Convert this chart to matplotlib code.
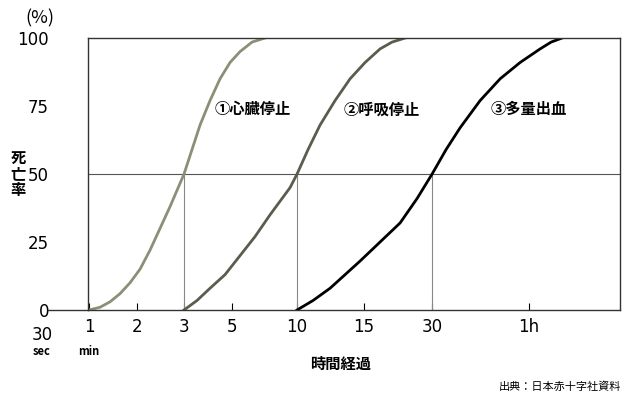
import matplotlib.pyplot as plt

plt.rcParams['font.family'] = ['Noto Sans CJK JP', 'DejaVu Sans']

# x positions on the (non-uniform) time axis
tick_pos = [89, 137, 184, 232, 297, 364, 432, 529]
tick_labels = ["1", "2", "3", "5", "10", "15", "30", "1h"]
y_ticks = [0, 25, 50, 75, 100]

cardiac_x = [89, 100, 110, 120, 130, 140, 150, 160, 170, 177, 184, 192, 200, 210, 220, 230, 240, 252, 265]
cardiac_y = [0, 1, 3, 6, 10, 15, 22, 30, 38, 44, 50, 59, 68, 77, 85, 91, 95, 98.5, 100]
resp_x = [184, 197, 210, 225, 240, 255, 270, 282, 290, 297, 308, 320, 335, 350, 365, 380, 392, 405]
resp_y = [0, 3.5, 8, 13, 20, 27, 35, 41, 45, 50, 59, 68, 77, 85, 91, 96, 98.5, 100]
bleed_x = [297, 313, 330, 345, 360, 380, 400, 417, 432, 446, 460, 480, 500, 520, 540, 551, 562]
bleed_y = [0, 3.5, 8, 13, 18, 25, 32, 41, 50, 59, 67, 77, 85, 91, 96, 98.5, 100]

fig = plt.figure(figsize=(6.4, 4.0), dpi=100)
ax = fig.add_axes([0.1375, 0.225, 0.8315, 0.68])
ax.set_xlim(88, 620)
ax.set_ylim(0, 100)

ax.axhline(50, color="#555555", lw=0.8)
for xv in [184, 297, 432]:
    ax.plot([xv, xv], [0, 50], color="#888888", lw=0.8)

ax.plot(cardiac_x, cardiac_y, color="#8a8f78", lw=2)
ax.plot(resp_x, resp_y, color="#5a5d4e", lw=2)
ax.plot(bleed_x, bleed_y, color="black", lw=2)

ax.text(215, 72, "①心臓停止", fontsize=11, weight="bold")
ax.text(343, 72, "②呼吸停止", fontsize=11, weight="bold")
ax.text(490, 72, "③多量出血", fontsize=11, weight="bold")

ax.set_xticks(tick_pos)
ax.set_xticklabels(tick_labels, fontsize=12, family="Liberation Sans Narrow")
ax.set_yticks(y_ticks)
ax.set_yticklabels([str(v) for v in y_ticks], fontsize=12, family="Liberation Sans Narrow")
ax.tick_params(axis="x", direction="in", length=5, pad=6)
ax.tick_params(axis="y", length=0, pad=28)
for s in ax.spines.values():
    s.set_color("#333333")
    s.set_linewidth(1)

# baseline extends left past the y axis
ax.plot([48, 88], [0, 0], color="#333333", lw=1, clip_on=False)
ax.text(42, -6, "30", ha="center", va="top", fontsize=12, family="Liberation Sans Narrow")
ax.text(42, -13, "sec", ha="center", va="top", fontsize=8, weight="bold")
ax.text(89, -13, "min", ha="center", va="top", fontsize=8, weight="bold")

ax.text(40, 104, "(%)", ha="center", va="bottom", fontsize=13)
ax.text(18, 50, "死\n亡\n率", ha="center", va="center", fontsize=11, linespacing=1.0, weight="bold")
ax.text(340, -17, "時間経過", ha="center", va="top", fontsize=11, weight="bold")
fig.text(0.97, 0.02, "出典：日本赤十字社資料", ha="right", va="bottom", fontsize=8)

fig.savefig("out.png")
